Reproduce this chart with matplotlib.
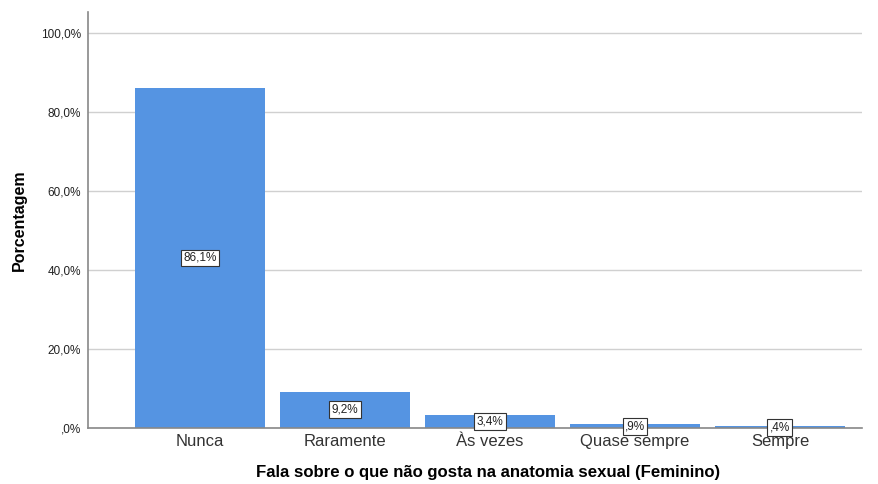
import matplotlib
matplotlib.use("Agg")
import matplotlib.pyplot as plt

plt.rcParams["font.family"] = ["Liberation Sans", "DejaVu Sans"]

categories = ["Nunca", "Raramente", "Às vezes", "Quase sempre", "Sempre"]
values = [86.1, 9.2, 3.4, 0.9, 0.4]
labels = ["86,1%", "9,2%", "3,4%", ",9%", ",4%"]
yticks = [0, 20, 40, 60, 80, 100]
ytick_labels = [",0%", "20,0%", "40,0%", "60,0%", "80,0%", "100,0%"]

fig = plt.figure(figsize=(8.79, 4.84), dpi=100)
ax = fig.add_axes([0.1001, 0.1157, 0.8806, 0.8593])

x = list(range(len(categories)))
ax.bar(x, values, width=0.897, color="#5594E2", zorder=2)
for xi, v, lab in zip(x, values, labels):
    ax.text(xi, v / 2, lab, ha="center", va="center", fontsize=8.5, color="#222222",
            bbox=dict(boxstyle="square,pad=0.2", fc="white", ec="#333333", lw=0.8), zorder=3)

ax.set_xlim(-0.772, 4.566)
ax.set_ylim(0, 105.3)
ax.set_yticks(yticks)
ax.set_yticklabels(ytick_labels, fontsize=8.5, color="#222222")
ax.set_xticks(x)
ax.set_xticklabels(categories, fontsize=12, color="#333333")
ax.yaxis.grid(True, color="#D0D0D0", lw=1, zorder=0)
ax.tick_params(axis="both", length=0)
ax.tick_params(axis="x", pad=4)
ax.tick_params(axis="y", pad=5)
for s in ["top", "right"]:
    ax.spines[s].set_visible(False)
for s in ["left", "bottom"]:
    ax.spines[s].set_color("#888888")
    ax.spines[s].set_linewidth(1.2)

ax.set_ylabel("Porcentagem", fontsize=11.5, fontweight="bold", labelpad=10)
ax.set_xlabel("Fala sobre o que não gosta na anatomia sexual (Feminino)", fontsize=12.1,
              fontweight="bold", labelpad=12)
ax.xaxis.label.set_x(0.517)

fig.savefig("out.png", dpi=100)
